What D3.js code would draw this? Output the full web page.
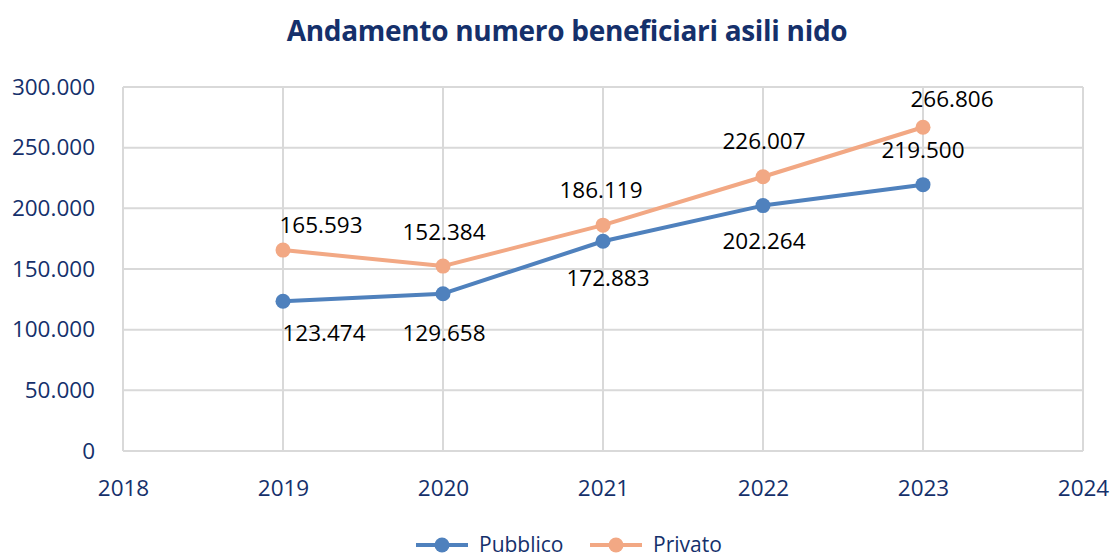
<!DOCTYPE html>
<html><head><meta charset="utf-8">
<script src="https://cdn.jsdelivr.net/npm/d3@7"></script>
<style>body{margin:0;background:#fff}svg{display:block}</style>
</head><body>
<svg id="c" width="1115" height="558"></svg>
<script>
const years = [2019, 2020, 2021, 2022, 2023];
const pubblico = [123474, 129658, 172883, 202264, 219500];
const privato = [165593, 152384, 186119, 226007, 266806];
const yTicks = [0, 50000, 100000, 150000, 200000, 250000, 300000];
const xTicks = [2018, 2019, 2020, 2021, 2022, 2023, 2024];
const seriesNames = ["Pubblico", "Privato"];
const title = "Andamento numero beneficiari asili nido";

// label placements (style config)
const pubOffsets = [[41, 32], [1, 39], [5, 37], [1, 36], [0, -35]];
const privOffsets = [[38, -25], [1, -34], [-2, -35], [1, -36], [29, -28]];

const colors = {Pubblico: "#4f81bd", Privato: "#f2a884"};
const navy = "#15306b";
const font = "'Open Sans', sans-serif";
const fmt = v => d3.format(",")(v).replace(/,/g, ".");

const svg = d3.select("#c");
const m = {l: 123, r: 1083, t: 87, b: 451};
const x = d3.scaleLinear().domain([2018, 2024]).range([m.l, m.r]);
const y = d3.scaleLinear().domain([0, 300000]).range([m.b, m.t]);

svg.append("text").attr("x", 567).attr("y", 41).attr("text-anchor", "middle")
  .attr("font-family", font).attr("font-weight", 700).attr("font-size", 28)
  .attr("fill", navy).attr("letter-spacing", -0.3).text(title);

// gridlines
const g = svg.append("g");
g.selectAll(".hy").data(yTicks).join("line")
  .attr("x1", m.l).attr("x2", m.r).attr("y1", d => y(d)).attr("y2", d => y(d))
  .attr("stroke", "#d9d9d9").attr("stroke-width", 2);
g.selectAll(".vx").data(xTicks).join("line")
  .attr("x1", d => x(d)).attr("x2", d => x(d)).attr("y1", m.t).attr("y2", m.b)
  .attr("stroke", "#d9d9d9").attr("stroke-width", 2);

// axes
const yAxis = d3.axisLeft(y).tickValues(yTicks).tickFormat(fmt).tickSize(0).tickPadding(28);
const ya = svg.append("g").attr("transform", `translate(${m.l},0)`).call(yAxis);
ya.select(".domain").remove();
ya.selectAll("text").attr("font-family", font).attr("font-size", 22.5).attr("fill", navy);

const xAxis = d3.axisBottom(x).tickValues(xTicks).tickFormat(d3.format("d")).tickSize(0).tickPadding(29);
const xa = svg.append("g").attr("transform", `translate(0,${m.b})`).call(xAxis);
xa.select(".domain").remove();
xa.selectAll("text").attr("font-family", font).attr("font-size", 22.5).attr("fill", navy);

const line = d3.line().x((d, i) => x(years[i])).y(d => y(d));
function drawSeries(vals, name, offs) {
  svg.append("path").datum(vals).attr("d", line).attr("fill", "none")
    .attr("stroke", colors[name]).attr("stroke-width", 4).attr("stroke-linejoin", "round");
  svg.selectAll(null).data(vals).join("circle")
    .attr("cx", (d, i) => x(years[i])).attr("cy", d => y(d)).attr("r", 7.5)
    .attr("fill", colors[name]);
  svg.selectAll(null).data(vals).join("text")
    .attr("x", (d, i) => x(years[i]) + offs[i][0]).attr("y", (d, i) => y(d) + offs[i][1])
    .attr("dy", "0.35em").attr("text-anchor", "middle")
    .attr("font-family", font).attr("font-size", 22.5).attr("fill", "#000").text(fmt);
}
drawSeries(pubblico, "Pubblico", pubOffsets);
drawSeries(privato, "Privato", privOffsets);

// legend
const leg = svg.append("g");
const legX = [416, 590];
seriesNames.forEach((n, i) => {
  const lx = legX[i], ly = 545;
  leg.append("line").attr("x1", lx).attr("x2", lx + 52).attr("y1", ly).attr("y2", ly)
    .attr("stroke", colors[n]).attr("stroke-width", 4);
  leg.append("circle").attr("cx", lx + 26).attr("cy", ly).attr("r", 7.5).attr("fill", colors[n]);
  leg.append("text").attr("x", lx + 63).attr("y", ly).attr("dy", "0.33em")
    .attr("font-family", font).attr("font-size", 21).attr("fill", navy).text(n);
});
</script>
</body></html>
